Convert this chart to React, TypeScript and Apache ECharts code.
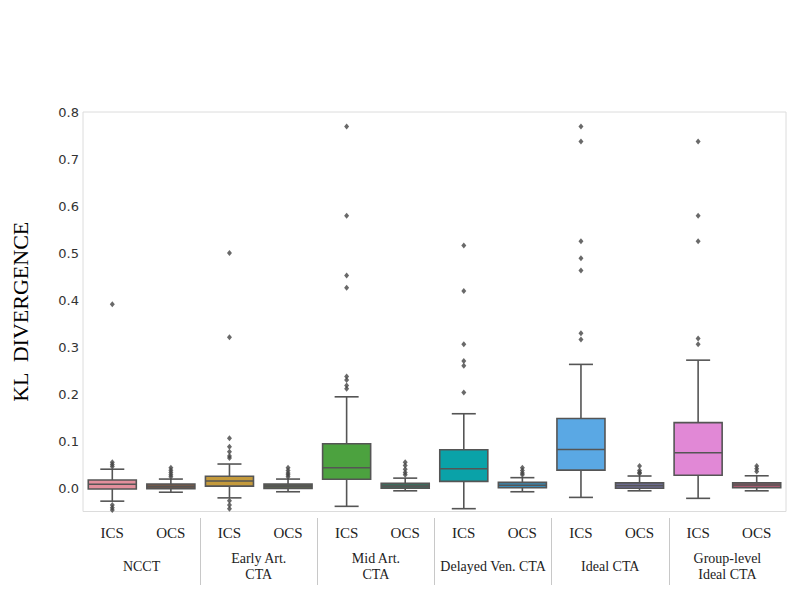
import React, { useEffect, useRef } from "react";
import * as echarts from "echarts";

const categories = ["ICS", "OCS", "ICS", "OCS", "ICS", "OCS", "ICS", "OCS", "ICS", "OCS", "ICS", "OCS"];
const groups = ["NCCT", "Early Art.\nCTA", "Mid Art.\nCTA", "Delayed Ven. CTA", "Ideal CTA", "Group-level\nIdeal CTA"];

const whiskerLow = [-0.028, -0.009, -0.021, -0.008, -0.039, -0.006, -0.044, -0.008, -0.020, -0.006, -0.022, -0.006];
const q1 = [-0.002, -0.0015, 0.004, -0.001, 0.0185, -0.0006, 0.014, 0.0006, 0.038, -0.0006, 0.027, 0.0006];
const medians = [0.008, 0.003, 0.015, 0.004, 0.043, 0.004, 0.041, 0.006, 0.082, 0.005, 0.075, 0.0065];
const q3 = [0.017, 0.0085, 0.025, 0.0085, 0.094, 0.010, 0.0815, 0.012, 0.148, 0.011, 0.139, 0.011];
const whiskerHigh = [0.040, 0.019, 0.051, 0.019, 0.194, 0.021, 0.158, 0.022, 0.263, 0.0255, 0.272, 0.026];

const outliers: number[][] = [
  [0.391, 0.055, 0.050, 0.046, -0.036, -0.042, -0.047],
  [0.024, 0.028, 0.033, 0.038, 0.043],
  [0.500, 0.321, 0.106, 0.088, 0.077, 0.068, 0.064, -0.027, -0.036, -0.044],
  [0.024, 0.028, 0.032, 0.037, 0.043],
  [0.769, 0.579, 0.452, 0.426, 0.237, 0.230, 0.218, 0.211],
  [0.055, 0.048, 0.040, 0.033, 0.028],
  [0.516, 0.419, 0.306, 0.270, 0.260, 0.203],
  [0.043, 0.037, 0.032, 0.028],
  [0.769, 0.737, 0.525, 0.489, 0.463, 0.329, 0.316],
  [0.047, 0.037, 0.033, 0.031],
  [0.737, 0.579, 0.525, 0.318, 0.306],
  [0.047, 0.041, 0.035],
];

const palette = [
  "#e38f9c", "#7b5b48", "#c49a3c", "#5c6450", "#4ca23f", "#3d6b5c",
  "#0aa2a8", "#3a8ab5", "#5aa8e4", "#7270a0", "#e188d6", "#a7596e",
];

const LINE = "#555555";

export default function App() {
  const ref = useRef<HTMLDivElement>(null);
  useEffect(() => {
    if (!ref.current) return;
    const chart = echarts.init(ref.current, null, { renderer: "svg" });
    const boxData = categories.map((_, i) => [i, whiskerLow[i], q1[i], medians[i], q3[i], whiskerHigh[i]]);
    const outlierData: number[][] = [];
    outliers.forEach((arr, i) => arr.forEach((v) => outlierData.push([i, v])));

    chart.setOption({
      animation: false,
      backgroundColor: "#ffffff",
      grid: [
        { left: 83, right: 1, top: 112, bottom: 78.5, show: true, borderColor: "#dcdcdc", borderWidth: 1 },
        { left: 83, right: 1, top: 518, height: 67, show: false },
      ],
      xAxis: [
        {
          type: "category",
          gridIndex: 0,
          data: categories,
          boundaryGap: true,
          axisLine: { show: false },
          axisTick: { show: false },
          splitLine: { show: false },
          axisLabel: {
            interval: 0,
            margin: 14,
            fontFamily: "Liberation Serif",
            fontSize: 15,
            color: "#222",
          },
        },
        {
          type: "category",
          gridIndex: 1,
          data: groups,
          boundaryGap: true,
          position: "bottom",
          axisLine: { show: false },
          axisTick: { show: false },
          splitLine: {
            show: true,
            showMinLine: false,
            showMaxLine: false,
            lineStyle: { color: "#c8c8c8", width: 1 },
          },
          axisLabel: {
            interval: 0,
            inside: true,
            margin: 19,
            verticalAlign: "middle",
            fontFamily: "Liberation Serif",
            fontSize: 14,
            lineHeight: 16,
            color: "#222",
          },
        },
      ],
      yAxis: [
        {
          type: "value",
          gridIndex: 0,
          min: -0.05,
          max: 0.8,
          splitNumber: 8,
          minInterval: 0.1,
          maxInterval: 0.1,
          axisLine: { show: false },
          axisTick: { show: false },
          splitLine: { show: false },
          axisLabel: {
            margin: 4,
            fontFamily: "DejaVu Sans",
            fontSize: 13,
            color: "#333",
            formatter: (v: number) => (v < -0.001 ? "" : v.toFixed(1)),
          },
          name: "KL  DIVERGENCE",
          nameLocation: "middle",
          nameRotate: 90,
          nameGap: 52,
          nameTextStyle: { fontFamily: "Liberation Serif", fontSize: 22, color: "#000" },
        },
        { type: "value", gridIndex: 1, min: 0, max: 1, show: false },
      ],
      series: [
        {
          type: "custom",
          xAxisIndex: 0,
          yAxisIndex: 0,
          data: boxData,
          encode: { x: 0, y: [1, 2, 3, 4, 5] },
          renderItem: (params: any, api: any) => {
            const i = api.value(0);
            const xC = api.coord([i, api.value(3)])[0];
            const band = api.size([1, 0])[0];
            const bw = band * 0.82;
            const half = bw / 2;
            const cap = half / 2;
            const yLo = api.coord([i, api.value(1)])[1];
            const yQ1 = api.coord([i, api.value(2)])[1];
            const yMed = api.coord([i, api.value(3)])[1];
            const yQ3 = api.coord([i, api.value(4)])[1];
            const yHi = api.coord([i, api.value(5)])[1];
            const stroke = { stroke: LINE, lineWidth: 1.6 };
            return {
              type: "group",
              children: [
                { type: "line", shape: { x1: xC, y1: yQ1, x2: xC, y2: yLo }, style: stroke },
                { type: "line", shape: { x1: xC, y1: yQ3, x2: xC, y2: yHi }, style: stroke },
                { type: "line", shape: { x1: xC - cap, y1: yLo, x2: xC + cap, y2: yLo }, style: stroke },
                { type: "line", shape: { x1: xC - cap, y1: yHi, x2: xC + cap, y2: yHi }, style: stroke },
                {
                  type: "rect",
                  shape: { x: xC - half, y: yQ3, width: bw, height: yQ1 - yQ3 },
                  style: { fill: palette[params.dataIndex], stroke: LINE, lineWidth: 1.6 },
                },
                { type: "line", shape: { x1: xC - half, y1: yMed, x2: xC + half, y2: yMed }, style: stroke },
              ],
            };
          },
        },
        {
          type: "scatter",
          xAxisIndex: 0,
          yAxisIndex: 0,
          data: outlierData,
          symbol: "diamond",
          symbolSize: [5, 6],
          itemStyle: { color: "#444" },
        },
      ],
    });
    return () => chart.dispose();
  }, []);
  return <div ref={ref} style={{ position: "absolute", left: 0, top: 0, width: 787, height: 590 }} />;
}
